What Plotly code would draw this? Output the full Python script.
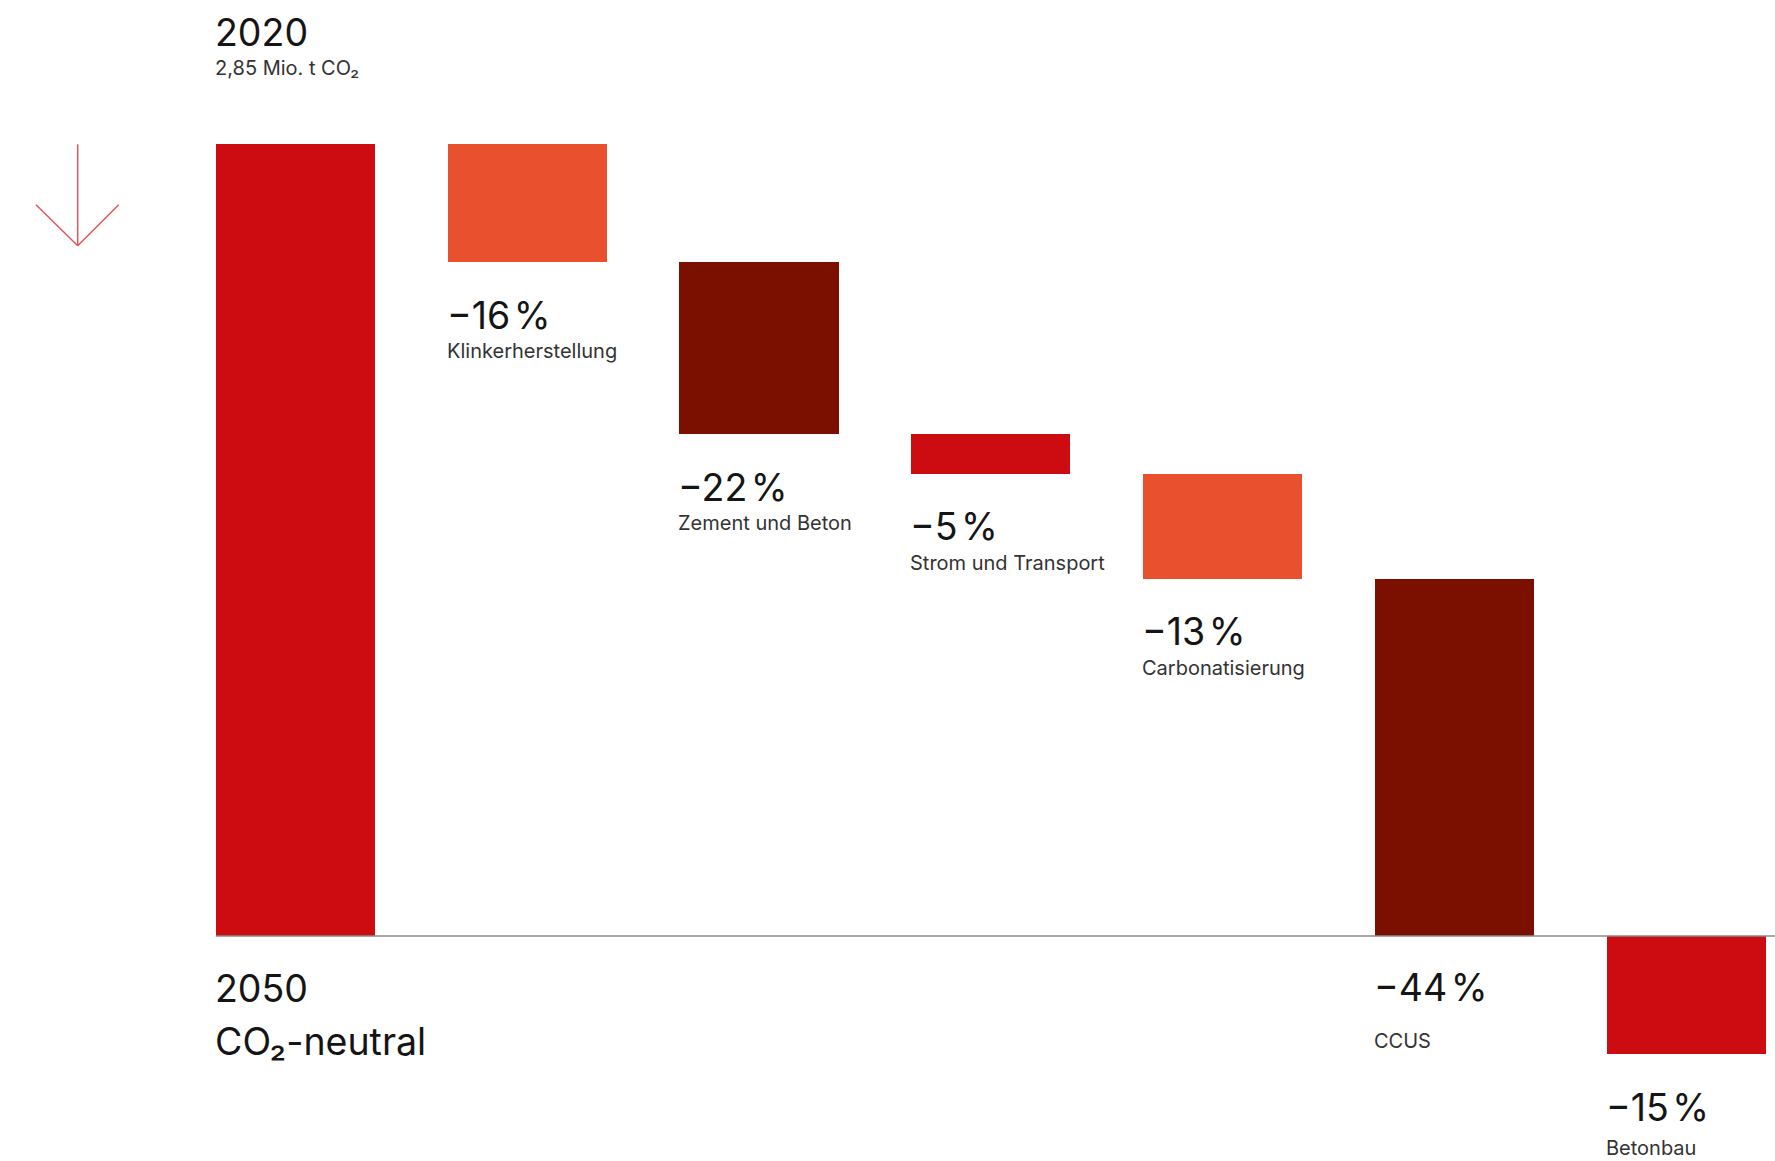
import plotly.graph_objects as go

# ---- data ----
categories = ["2020", "Klinkerherstellung", "Zement und Beton", "Strom und Transport",
              "Carbonatisierung", "CCUS", "Betonbau"]
values = [100, -14.9, -21.7, -5.0, -13.3, -45.1, -14.9]   # bar heights in % of 2020
pct_labels = ["", "−16\u200a%", "−22\u200a%", "−5\u200a%", "−13\u200a%", "−44\u200a%", "−15\u200a%"]
start_title = "2020"
start_sub = "2,85 Mio. t CO₂"
end_title = "2050"
end_sub = "CO₂-neutral"

colors = ["#CD0C12", "#E8502E", "#7B1000", "#CD0C12", "#E8502E", "#7B1000", "#CD0C12"]

# ---- waterfall geometry from values ----
bases = []
running = 0.0
for i, v in enumerate(values):
    if i == 0:
        bases.append(0.0)
        running = v
    else:
        bases.append(running)
        running += v
x = list(range(len(values)))
bar_w = 0.6857

W, H = 1775, 1161
px_per_x = 231.9
x0_px = 295.2
px_per_y = 7.917
y0_px = 936.0
xr = [(0 - x0_px) / px_per_x, (W - x0_px) / px_per_x]
yr = [-(H - y0_px) / px_per_y, y0_px / px_per_y]

fig = go.Figure()
fig.add_trace(go.Bar(
    x=x, y=values, base=bases, width=bar_w,
    marker=dict(color=colors, line=dict(width=0)),
    hoverinfo="skip", showlegend=False,
))

FONT = "Inter"
BIG = 37.5
SMALL = 20
dark = "#151515"
grey = "#333333"

ann = []
def add(xv, yv, text, size, color, yshift):
    ann.append(dict(x=xv, y=yv, xref="x", yref="y", text=text, showarrow=False,
                    xanchor="left", yanchor="top", yshift=yshift, xshift=-2, borderpad=0,
                    font=dict(family=FONT, size=size, color=color)))

left0 = x[0] - bar_w / 2
top0 = values[0]
add(left0, top0, start_title, BIG, dark, 135)
add(left0, top0, start_sub, SMALL, grey, 89.5)
add(left0, 0, end_title, BIG, dark, -28.5)
add(left0, 0, end_sub, BIG, dark, -81.5)

for i in range(1, len(values)):
    bottom = bases[i] + values[i]
    lx = x[i] - bar_w / 2
    if categories[i] == "CCUS":
        bottom = min(bottom, 0)
        big_s, sub_s = -28, -91.5
    elif i == len(values) - 1:
        big_s, sub_s = -30, -81
    else:
        big_s, sub_s = -29.5, -76
    add(lx, bottom, pct_labels[i], BIG, dark, big_s)
    add(lx, bottom, categories[i], SMALL, grey, sub_s)

def px(xp):
    return xp / W
def py(yp):
    return 1 - yp / H

arrow_col = "#E0575B"
shapes = [
    # zero line
    dict(type="line", xref="x", yref="y", x0=left0, x1=xr[1], y0=0, y1=0,
         line=dict(color="#8A8A8A", width=1.5), layer="above"),
    # decorative arrow
    dict(type="line", xref="paper", yref="paper", x0=px(77.7), x1=px(77.7), y0=py(144.3), y1=py(245.7),
         line=dict(color=arrow_col, width=1.5)),
    dict(type="line", xref="paper", yref="paper", x0=px(36), x1=px(77.7), y0=py(204.7), y1=py(245.7),
         line=dict(color=arrow_col, width=1.5)),
    dict(type="line", xref="paper", yref="paper", x0=px(118.7), x1=px(77.7), y0=py(204.7), y1=py(245.7),
         line=dict(color=arrow_col, width=1.5)),
]

fig.update_layout(
    width=W, height=H,
    margin=dict(l=0, r=0, t=0, b=0),
    paper_bgcolor="white", plot_bgcolor="white",
    xaxis=dict(range=xr, visible=False, fixedrange=True),
    yaxis=dict(range=yr, visible=False, fixedrange=True),
    annotations=ann, shapes=shapes,
    bargap=0, showlegend=False,
)

fig.write_html("out.html", config={"displayModeBar": False},
               post_script="document.body.style.margin='0';document.body.style.overflow='hidden';")
